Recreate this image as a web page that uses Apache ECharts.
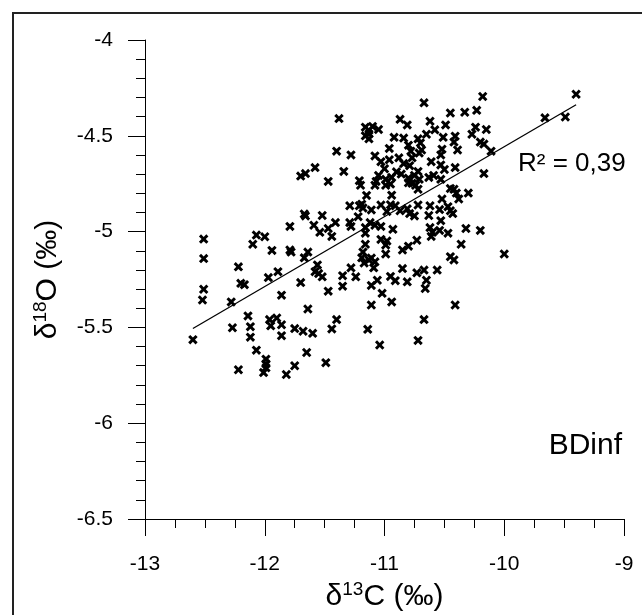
<!DOCTYPE html>
<html>
<head>
<meta charset="utf-8">
<script src="https://cdn.jsdelivr.net/npm/echarts@6/dist/echarts.min.js"></script>
<style>
  html, body { margin: 0; padding: 0; background: #fff; }
  #chart { width: 642px; height: 615px; }
</style>
</head>
<body>
<div id="chart"></div>
<script>
// d13C (x) and d18O (y) for each sample
var d13C = [
  -9.40, -10.18, -10.67, -10.23, -10.33, -10.45, -9.66, -9.49, -11.38, -10.87,
  -10.62, -10.49, -10.81, -11.16, -11.10, -11.05, -11.13, -11.13, -10.58, -10.24,
  -10.15, -10.27, -10.65, -10.41, -10.51, -10.92, -10.84, -10.72, -11.16, -11.13,
  -10.42, -10.20, -10.17, -10.70, -10.80, -10.52, -10.96, -10.39, -11.40, -10.78,
  -11.28, -10.53, -10.11, -10.71, -11.08, -10.77, -10.88, -10.96, -11.03, -10.61,
  -10.84, -10.79, -10.53, -10.50, -10.41, -11.00, -11.34, -10.72, -10.90, -10.17,
  -11.66, -11.58, -11.70, -10.63, -10.59, -10.53, -10.75, -10.80, -10.71, -11.05,
  -10.99, -10.94, -11.07, -11.21, -11.47, -11.20, -11.08, -10.77, -10.74, -10.99,
  -10.45, -10.42, -10.72, -10.30, -10.40, -10.38, -10.94, -11.15, -10.52, -11.19,
  -11.21, -11.29, -10.72, -10.62, -10.91, -11.03, -10.54, -10.45, -10.47, -11.11,
  -10.87, -10.81, -10.98, -10.79, -10.63, -10.75, -10.43, -11.67, -11.52, -11.22,
  -11.66, -11.29, -11.12, -10.53, -11.41, -11.59, -11.79, -11.28, -11.03, -11.08,
  -11.16, -10.62, -10.32, -10.93, -11.47, -10.20, -10.60, -11.54, -10.54, -10.47,
  -11.16, -11.44, -12.07, -12.00, -12.51, -10.61, -11.03, -10.98, -12.10, -10.99,
  -10.36, -10.73, -11.16, -10.80, -11.94, -11.79, -11.78, -10.85, -11.18, -11.64,
  -10.99, -10.00, -11.67, -12.51, -11.19, -10.45, -10.42, -11.13, -11.08, -11.17,
  -11.56, -10.56, -10.67, -11.09, -11.28, -10.85, -12.22, -11.89, -11.58, -11.55,
  -11.52, -11.35, -11.24, -10.73, -11.97, -10.95, -10.91, -10.65, -11.06, -11.70,
  -10.81, -12.20, -12.17, -11.11, -11.35, -10.66, -12.51, -11.47, -11.02, -11.86,
  -12.52, -12.28, -10.94, -11.11, -10.41, -11.64, -12.14, -11.90, -11.96, -11.40,
  -10.67, -12.12, -11.86, -12.27, -11.95, -11.75, -11.44, -11.14, -11.68, -11.60,
  -11.86, -12.12, -12.60, -10.72, -11.04, -12.07, -11.65, -11.49, -11.99, -11.75,
  -11.99, -11.99, -12.22, -12.01, -11.82, -10.95, -11.18, -10.95, -10.69, -11.11,
  -10.80, -10.86
];
var d18O = [
  -4.283, -4.295, -4.328, -4.367, -4.377, -4.381, -4.406, -4.402, -4.410, -4.414,
  -4.424, -4.443, -4.443, -4.455, -4.451, -4.467, -4.471, -4.490, -4.469, -4.455,
  -4.467, -4.492, -4.492, -4.502, -4.508, -4.508, -4.512, -4.516, -4.500, -4.516,
  -4.533, -4.533, -4.543, -4.537, -4.549, -4.570, -4.566, -4.574, -4.580, -4.580,
  -4.600, -4.600, -4.580, -4.590, -4.605, -4.615, -4.615, -4.625, -4.635, -4.635,
  -4.645, -4.656, -4.652, -4.676, -4.666, -4.672, -4.686, -4.686, -4.688, -4.697,
  -4.697, -4.666, -4.710, -4.717, -4.707, -4.727, -4.707, -4.721, -4.727, -4.707,
  -4.727, -4.717, -4.738, -4.734, -4.738, -4.758, -4.758, -4.748, -4.758, -4.758,
  -4.775, -4.779, -4.779, -4.799, -4.799, -4.830, -4.810, -4.811, -4.830, -4.857,
  -4.865, -4.865, -4.861, -4.865, -4.865, -4.861, -4.885, -4.891, -4.870, -4.887,
  -4.891, -4.881, -4.895, -4.906, -4.916, -4.918, -4.906, -4.908, -4.916, -4.922,
  -4.918, -4.953, -4.953, -4.943, -4.953, -4.967, -4.973, -4.973, -4.973, -4.967,
  -4.979, -4.979, -4.984, -4.988, -4.984, -4.994, -5.004, -5.004, -4.994, -5.008,
  -5.008, -5.025, -5.018, -5.027, -5.039, -5.025, -5.041, -5.049, -5.066, -5.070,
  -5.066, -5.045, -5.066, -5.076, -5.098, -5.096, -5.107, -5.096, -5.107, -5.107,
  -5.117, -5.117, -5.137, -5.141, -5.137, -5.131, -5.148, -5.148, -5.158, -5.164,
  -5.174, -5.201, -5.201, -5.189, -5.189, -5.193, -5.184, -5.209, -5.209, -5.219,
  -5.236, -5.230, -5.236, -5.215, -5.240, -5.234, -5.256, -5.254, -5.254, -5.266,
  -5.262, -5.270, -5.277, -5.281, -5.285, -5.297, -5.301, -5.311, -5.322, -5.332,
  -5.357, -5.367, -5.367, -5.383, -5.383, -5.404, -5.440, -5.451, -5.459, -5.459,
  -5.459, -5.496, -5.486, -5.502, -5.492, -5.506, -5.508, -5.510, -5.520, -5.531,
  -5.543, -5.551, -5.564, -5.568, -5.592, -5.619, -5.631, -5.684, -5.666, -5.700,
  -5.690, -5.711, -5.721, -5.736, -5.746, -4.752, -4.877, -4.860, -4.574, -5.138,
  -4.745, -4.700
];
// regression line ends, as drawn
var trendX = [-12.6, -9.4];
var trendY = [-5.506, -4.338];

var xTicks = { min: -13, max: -9, step: 1 };
var yTicks = { min: -6.5, max: -4, step: 0.5 };

var FONT = '"Liberation Sans", Arial, sans-serif';

var points = d13C.map(function (x, i) { return [x, d18O[i]]; });
var trend = trendX.map(function (x, i) { return [x, trendY[i]]; });

var chart = echarts.init(document.getElementById('chart'));

var axisCommon = {
    type: 'value',
    axisLine: { show: true, onZero: false, lineStyle: { color: '#000', width: 1 } },
    axisTick: { show: true, inside: false, length: 17, lineStyle: { color: '#000', width: 1 } },
    minorTick: { show: true, length: 9, lineStyle: { color: '#000', width: 1 } },
    splitLine: { show: false },
    minorSplitLine: { show: false },
    axisLabel: { color: '#000', fontSize: 21, fontFamily: FONT },
    nameLocation: 'middle'
};

var option = {
    animation: false,
    backgroundColor: '#fff',
    grid: {
        left: 145,
        right: 18,
        top: 40,
        bottom: 96,
        containLabel: false,
        outerBoundsMode: 'none'
    },
    xAxis: echarts.util.merge({
        min: xTicks.min,
        max: xTicks.max,
        interval: xTicks.step,
        minorTick: { splitNumber: 4 },
        axisLabel: { margin: 35 },
        name: '{a|δ}{b|13}{a|C (‰)}',
        nameGap: 60,
        nameTextStyle: {
            rich: {
                a: { fontSize: 30, fontFamily: FONT, color: '#000', lineHeight: 34 },
                b: { fontSize: 19, fontFamily: FONT, color: '#000', lineHeight: 26, verticalAlign: 'top' }
            }
        }
    }, axisCommon),
    yAxis: echarts.util.merge({
        min: yTicks.min,
        max: yTicks.max,
        interval: yTicks.step,
        minorTick: { splitNumber: 5 },
        axisLabel: { margin: 32 },
        name: '{a|δ}{b|18}{a|O (‰)}',
        nameGap: 80,
        nameTextStyle: {
            rich: {
                a: { fontSize: 30, fontFamily: FONT, color: '#000', lineHeight: 34 },
                b: { fontSize: 19, fontFamily: FONT, color: '#000', lineHeight: 26, verticalAlign: 'top' }
            }
        }
    }, axisCommon),
    graphic: [
        {
            type: 'rect',
            shape: { x: 13, y: 13, width: 700, height: 700 },
            style: { fill: 'none', stroke: '#222', lineWidth: 2 },
            silent: true
        },
        {
            type: 'text',
            x: 518, y: 164,
            style: { text: 'R² = 0,39', fontSize: 26, fontFamily: FONT, fill: '#000', verticalAlign: 'middle' },
            z: 10
        },
        {
            type: 'text',
            x: 622, y: 446,
            style: { text: 'BDinf', fontSize: 30, fontFamily: FONT, fill: '#000', align: 'right', verticalAlign: 'middle' },
            z: 10
        }
    ],
    series: [
        {
            name: 'trend',
            type: 'line',
            data: trend,
            symbol: 'none',
            silent: true,
            lineStyle: { color: '#000', width: 1.3 },
            z: 1
        },
        {
            name: 'BDinf',
            type: 'scatter',
            data: points,
            symbol: 'path://M0,2.2L2.2,0L5,2.8L7.8,0L10,2.2L7.2,5L10,7.8L7.8,10L5,7.2L2.2,10L0,7.8L2.8,5Z',
            symbolSize: 9.5,
            itemStyle: { color: '#000', opacity: 1 },
            z: 2
        }
    ]
};

chart.setOption(option);
window.addEventListener('resize', function () {
    chart.resize();
});
</script>
</body>
</html>
